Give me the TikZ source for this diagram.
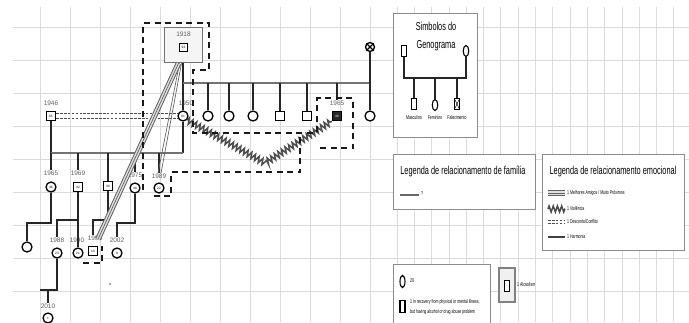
\documentclass[tikz,border=0pt]{standalone}
\usepackage{fontspec}
\setmainfont{Liberation Sans}
\newfontfamily\cf{Liberation Sans}[FakeStretch=0.64]
\usetikzlibrary{decorations.pathmorphing,decorations.pathreplacing,shapes.geometric}
\tikzset{
 gl/.style={draw=black!14, line width=0.8pt},
 fem/.style={circle, draw=black, line width=1.3pt, fill=white, minimum size=10pt, inner sep=0pt, font=\fontsize{3.2}{3.5}\selectfont},
 mal/.style={rectangle, draw=black, line width=1.3pt, fill=white, minimum size=9pt, inner sep=0pt, font=\fontsize{3.2}{3.5}\selectfont},
 yr/.style={font=\fontsize{6.5}{7}\selectfont, text=black!62, inner sep=0.3pt},
 ln/.style={draw=black!85, line width=1.3pt},
 sib/.style={draw=black!55, line width=1.4pt},
 thinl/.style={draw=black!60, line width=0.7pt},
 hh/.style={draw=black!90, line width=1.2pt, dash pattern=on 6pt off 4.5pt},
 hatchA/.style={draw=black!62, double=black!12, double distance=3.6pt, line width=1pt},
 hatchB/.style={draw=black!62, line width=0.7pt, postaction={decorate, decoration={ticks, segment length=2.4pt, amplitude=2.6pt}}},
 viol/.style={draw=black!70, line width=1.5pt, decorate, decoration={zigzag, segment length=4.2pt, amplitude=3pt}},
 confl/.style={draw=black!70, line width=1.3pt, dash pattern=on 2.6pt off 1.3pt},
 lbox/.style={draw=black!45, line width=0.9pt, fill=white, inner sep=0pt},
 ttl/.style={font=\cf\fontsize{11.5}{18}\selectfont, inner sep=0pt, align=center},
 itm/.style={font=\cf\fontsize{5.5}{10}\selectfont, inner sep=0pt, anchor=west, align=left},
 sym/.style={draw=black, line width=1.1pt, fill=white, inner sep=0pt, minimum width=4.5pt, minimum height=10.5pt},
}
\begin{document}
\begin{tikzpicture}[x=1pt,y=-1pt]
\useasboundingbox (0,0) rectangle (689,322);
\fill[white] (0,0) rectangle (689,322);
% grid
\foreach \x in {40,70,...,370} \draw[gl] (\x,7) -- (\x,322);
\foreach \i in {0,...,16} \draw[gl] ({397+17.3*\i},7) -- ({397+17.3*\i},322);
\foreach \y in {27,60,93,126,159,192,225,258,291} \draw[gl] (13,\y) -- (689,\y);

% ---------- genogram ----------
% generation 0
\node[draw=black!55, line width=1.6pt, fill=black!4, minimum width=38pt, minimum height=35pt, inner sep=0pt] (p1918) at (183.5,45) {};
\node[yr] (l1918) at (183.5,34) {1918};
\node[mal, minimum size=8pt, line width=1.6pt] (p1918i) at (183.5,47.5) {93};
\node[fem, minimum size=9pt] (w1) at (370,47) {};
\draw[line width=1.1pt] (w1.north east) -- (w1.south west) (w1.north west) -- (w1.south east);

% generation 1
\node[fem] (c1950) at (183,116) {61};
\node[yr] (l1950) at (186,103) {1950};
\node[fem] (s1) at (208,116) {};
\node[fem] (s2) at (229,116) {};
\node[fem] (s3) at (253,116) {};
\node[mal] (b1) at (280,116) {};
\node[mal] (b2) at (307,116) {};
\node[mal, fill=black!85, text=white] (a1965) at (337,116) {46};
\node[yr] (l1965) at (337,103) {1965};
\node[fem] (s4) at (370,116) {};
\node[mal] (p1946) at (51,116) {65};
\node[yr] (l1946) at (51,103) {1946};

\coordinate (j0) at (183,83);
\coordinate (j1) at (370,83);
\draw[ln] (p1918.south -| c1950) -- (c1950.north);
\draw[sib] (j0) -- (j1);
\draw[ln] (w1.south) -- (s4.north);
\foreach \n in {s1,s2,s3,b1,b2} \draw[ln] (\n |- j0) -- (\n.north);
\draw[ln] (a1965 |- j0) -- (l1965.north);

% conflict 1946 - 1950
\draw[confl] ([yshift=2.4pt]p1946.east) -- ([yshift=2.4pt]c1950.west);
\draw[confl] ([yshift=-2.4pt]p1946.east) -- ([yshift=-2.4pt]c1950.west);

% generation 2
\node[fem] (k1965) at (51,187) {46};
\node[yr] (l1965b) at (51,173) {1965};
\node[mal] (k1969) at (78,187) {42};
\node[yr] (l1969) at (78,173) {1969};
\node[mal] (k36) at (108,186) {36};
\node[fem] (k1975) at (135,188) {36};
\node[yr] (l1975) at (135,175) {1975};
\node[fem] (k1989) at (159,188) {22};
\node[yr] (l1989) at (159,176) {1989};

\coordinate (k0) at (51,153);
\coordinate (k1) at (183,153);
\draw[ln] (p1946.south) -- (k0);
\draw[ln] (c1950.south) -- (k1);
\draw[sib] (k0) -- (k1);
\draw[ln] (k1965 |- k0) -- (l1965b.north);
\draw[ln] (k1969 |- k0) -- (l1969.north);
\draw[ln] (k36 |- k0) -- (k36.north);
\draw[ln] (k1975 |- k0) -- (l1975.north);
\draw[ln] (k1989 |- k0) -- (l1989.north);
\draw[thinl] ([xshift=-2pt]p1918.south) -- ([xshift=2pt]l1989.north);
\draw[thinl] ([xshift=-4pt]p1918.south) -- ([xshift=-1pt]l1989.north);

% generation 3
\node[fem] (g1) at (27,247) {};
\node[fem] (g1988) at (57,253) {23};
\node[yr] (l1988) at (57,240) {1988};
\node[fem] (g1990) at (78,253) {21};
\node[yr] (l1990) at (77,240) {1990};
\node[mal] (g1995) at (93,251) {16};
\node[yr] (l1995) at (95,238) {1995};
\node[fem] (g2002) at (117,253) {9};
\node[yr] (l2002) at (117,240) {2002};

\coordinate (m1) at (51,223);
\draw[ln] (k1965.south) -- (m1) -| (g1.north);
\coordinate (m3) at (78,220);
\coordinate (m4) at (57,220);
\draw[ln] (k1969.south) -- (g1990.north);
\draw[ln] (m3) -- (m4) -- (l1988.north);
\coordinate (m5) at (108,220);
\coordinate (m6) at (93,220);
\draw[ln] (k36.south) -- (m5) -- (m6) -- (l1995.north -| m6);
\coordinate (m7) at (135,223);
\coordinate (m8) at (117,223);
\draw[ln] (k1975.south) -- (m7) -- (m8) -- (l2002.north);

% generation 4
\node[fem] (g2010) at (48,318) {1};
\node[yr] (l2010) at (48,306) {2010};
\coordinate (m9) at (57,290);
\coordinate (m10) at (40,290);
\coordinate (m11) at (48,290);
\draw[ln] (g1988.south) -- (m9) -- (m10);
\draw[ln] (m11) -- (l2010.north);

% emotional relations
\draw[hatchA] ([xshift=-5pt]p1918.south) -- ([shift={(3pt,-4pt)}]l1995.north);
\draw[hatchB] ([xshift=-5pt]p1918.south) -- ([shift={(3pt,-4pt)}]l1995.north);
\coordinate (zz) at (265,163);
\draw[viol] (c1950.south east) -- (zz) -- (a1965.south west);

% household dashed lines
\draw[hh] (143,190) -- (143,23) -- (209,23) -- (209,70) -- (193,70) -- (193,133) -- (313,133);
\draw[hh] (300,137) -- (300,172) -- (171,172) -- (171,196) -- (150,196);
\draw[hh] (317,132) -- (317,98) -- (353,98) -- (353,148) -- (317,148);
\draw[hh] (83,263) -- (102,263) -- (102,246);
\fill[black!70] (110,284) circle (0.8pt);

% ---------- legends ----------
\node[lbox, anchor=north west, minimum width=84pt, minimum height=124pt] (symbox) at (393,13) {};
\node[ttl] (symt) at (436,37) {Simbolos do\\Genograma};
\node[sym] (sm) at (404,51) {};
\node[sym, ellipse, minimum width=5.5pt, minimum height=11pt] (sf) at (466,51) {};
\coordinate (sj0) at (404,78);
\coordinate (sj1) at (466,78);
\draw[ln, line width=1.1pt] (sm.south) -- (sj0) -- (sj1) -- (sf.south);
\node[sym] (sc1) at (414,104) {};
\node[sym, ellipse, minimum width=5.5pt, minimum height=11pt] (sc2) at (435,105) {};
\node[sym] (sc3) at (457,104) {};
\draw[line width=0.5pt] (sc3.north east) -- (sc3.south west) (sc3.north west) -- (sc3.south east);
\foreach \n in {sc1,sc2,sc3} \draw[ln, line width=1.1pt] (\n |- sj0) -- (\n.north);
\node[itm, anchor=center] (tm) at (414,118) {Masculino};
\node[itm, anchor=center] (tf) at (435,118) {Feminino};
\node[itm, anchor=center] (tx) at (457,118) {Falecimento};

\node[lbox, anchor=north west, minimum width=142pt, minimum height=55pt] (fambox) at (393,154) {};
\node[ttl] (famt) at (463,171) {Legenda de relacionamento de família};
\node[itm] (famq) at (421,194) {?};
\coordinate (fq0) at (400,195);
\draw[draw=black!60, line width=1.5pt] (fq0) -- ([xshift=-2pt]famq.west |- fq0);

\node[lbox, anchor=north west, minimum width=142pt, minimum height=96pt] (emobox) at (542,154) {};
\node[ttl] (emot) at (613,172) {Legenda de relacionamento emocional};
\node[itm] (e1) at (567,193) {1 Melhores Amigos / Muito Próximos};
\node[itm] (e2) at (567,209) {1 Violência};
\node[itm] (e3) at (567,222) {1 Desconto/Conflito};
\node[itm] (e4) at (567,237) {1 Harmonia};
\coordinate (e1a) at (548,193);
\coordinate (e2a) at (548,209);
\coordinate (e3a) at (548,222);
\coordinate (e4a) at (548,237);
\draw[hatchA] (e1a) -- ([xshift=-2pt]e1.west);
\draw[hatchB] (e1a) -- ([xshift=-2pt]e1.west);
\draw[viol] (e2a) -- ([xshift=-2pt]e2.west);
\draw[confl, line width=0.9pt] ([yshift=1.6pt]e3a) -- ([shift={(-2pt,1.6pt)}]e3.west);
\draw[confl, line width=0.9pt] ([yshift=-1.6pt]e3a) -- ([shift={(-2pt,-1.6pt)}]e3.west);
\draw[draw=black!75, line width=1.2pt] (e4a) -- ([xshift=-2pt]e4.west);

\node[lbox, anchor=north west, minimum width=97pt, minimum height=66pt] (botbox) at (393,264) {};
\node[sym, ellipse, minimum width=5pt, minimum height=12pt] (bo1) at (402.5,281.5) {};
\node[itm] (bt1) at (410,281) {20};
\node[sym, minimum width=5pt, minimum height=12.5pt] (bo2) at (402.5,306.5) {};
\fill[black] ([xshift=0.5pt,yshift=0.5pt]bo2.south west) rectangle ([xshift=-0.5pt,yshift=-5pt]bo2.east);
\node[itm] (bt2) at (410,307) {1 In recovery from physical or mental illness,\\but having alcohol or drug abuse problem};

\node[draw=black!50, line width=1.4pt, fill=black!6, minimum width=16pt, minimum height=34pt, inner sep=0pt] (albox) at (507,285) {};
\node[sym, line width=1.3pt, minimum width=5pt, minimum height=11pt] (alsym) at (507,286) {};
\node[itm] (alt) at (517,285) {1 Alcoolism};
\end{tikzpicture}
\end{document}
